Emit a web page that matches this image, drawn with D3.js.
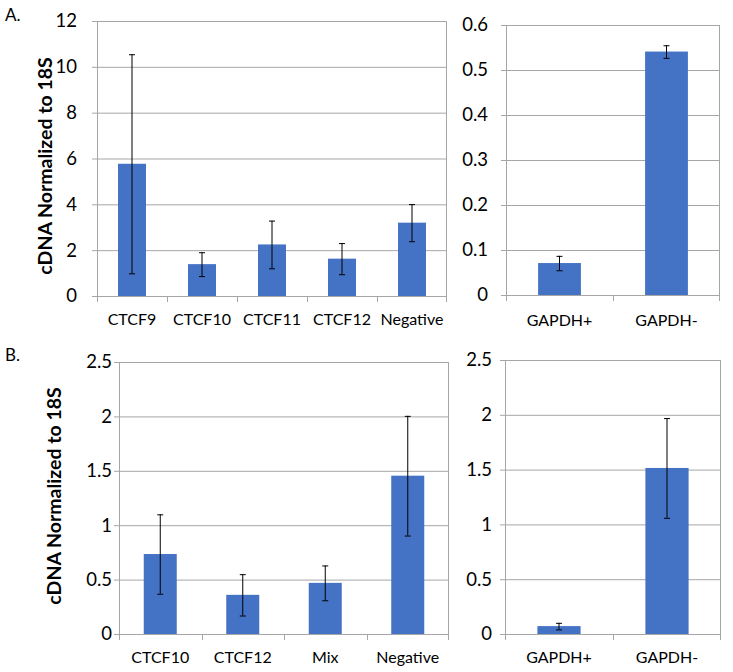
<!DOCTYPE html>
<html>
<head>
<meta charset="utf-8">
<script src="https://cdn.jsdelivr.net/npm/d3@7"></script>
<style>
  body { margin: 0; background: #fff; }
  text { font-family: Lato, "Open Sans", sans-serif; fill: #000; }
</style>
</head>
<body>
<script>
// Panel A, left
var aLeftCats = ["CTCF9", "CTCF10", "CTCF11", "CTCF12", "Negative"];
var aLeftVals = [5.77, 1.39, 2.25, 1.63, 3.2];
var aLeftErr = [4.78, 0.52, 1.04, 0.68, 0.81];
var aLeftTicks = [0, 2, 4, 6, 8, 10, 12];

// Panel A, right
var aRightCats = ["GAPDH+", "GAPDH-"];
var aRightVals = [0.071, 0.541];
var aRightErr = [0.016, 0.014];
var aRightTicks = [0, 0.1, 0.2, 0.3, 0.4, 0.5, 0.6];

// Panel B, left
var bLeftCats = ["CTCF10", "CTCF12", "Mix", "Negative"];
var bLeftVals = [0.735, 0.36, 0.47, 1.455];
var bLeftErr = [0.365, 0.19, 0.16, 0.55];
var bTicks = [0, 0.5, 1, 1.5, 2, 2.5];

// Panel B, right
var bRightCats = ["GAPDH+", "GAPDH-"];
var bRightVals = [0.072, 1.515];
var bRightErr = [0.03, 0.455];

var barColor = "#4472c4";
var gridColor = "#a6a6a6";

var svg = d3.select("body")
  .append("svg")
    .attr("width", 733)
    .attr("height", 672);

//draws one bar panel with error bars
function drawPanel(p) {
  var x = d3.scaleBand()
    .domain(p.cats)
    .range([p.left, p.right])
    .paddingInner(0.6)
    .paddingOuter(0.3);

  var y = d3.scaleLinear()
    .domain([0, d3.max(p.ticks)])
    .range([p.bottom, p.top]);

  var g = svg.append("g");

  //gridlines + y ticks
  g.selectAll(".grid")
    .data(p.ticks.filter(function(t) { return t > 0; }))
    .enter()
    .append("line")
      .attr("x1", p.left - 5)
      .attr("x2", p.right)
      .attr("y1", function(d) { return y(d) + 0.5; })
      .attr("y2", function(d) { return y(d) + 0.5; })
      .attr("stroke", gridColor)
      .attr("stroke-width", 1);

  //y tick labels
  g.selectAll(".ylab")
    .data(p.ticks)
    .enter()
    .append("text")
      .attr("x", p.left - p.labelGap)
      .attr("y", function(d) { return y(d); })
      .attr("dy", "0.35em")
      .attr("text-anchor", "end")
      .style("font-size", "18.5px")
      .text(function(d) { return d; });

  //bars
  g.selectAll(".bar")
    .data(p.vals)
    .enter()
    .append("rect")
      .attr("fill", barColor)
      .attr("x", function(d, i) { return x(p.cats[i]); })
      .attr("width", x.bandwidth())
      .attr("y", function(d) { return y(d); })
      .attr("height", function(d) { return y(0) - y(d); });

  //error bars
  var eb = g.selectAll(".err")
    .data(p.vals)
    .enter()
    .append("g")
      .attr("stroke", "#000")
      .attr("stroke-width", 1);
  eb.append("line")
    .attr("x1", function(d, i) { return x(p.cats[i]) + x.bandwidth() / 2; })
    .attr("x2", function(d, i) { return x(p.cats[i]) + x.bandwidth() / 2; })
    .attr("y1", function(d, i) { return y(d + p.err[i]); })
    .attr("y2", function(d, i) { return y(d - p.err[i]); });
  [1, -1].forEach(function(s) {
    eb.append("line")
      .attr("x1", function(d, i) { return x(p.cats[i]) + x.bandwidth() / 2 - 3; })
      .attr("x2", function(d, i) { return x(p.cats[i]) + x.bandwidth() / 2 + 3; })
      .attr("y1", function(d, i) { return y(d + s * p.err[i]) + 0.5; })
      .attr("y2", function(d, i) { return y(d + s * p.err[i]) + 0.5; });
  });

  //axes lines
  g.append("line")
    .attr("x1", p.left - 5).attr("x2", p.right)
    .attr("y1", y(0) + 0.5).attr("y2", y(0) + 0.5)
    .attr("stroke", gridColor);
  g.append("line")
    .attr("x1", p.left + 0.5).attr("x2", p.left + 0.5)
    .attr("y1", p.top).attr("y2", y(0) + 6)
    .attr("stroke", gridColor);
  g.append("line")
    .attr("x1", p.right - 0.5).attr("x2", p.right - 0.5)
    .attr("y1", p.top).attr("y2", y(0) + 6)
    .attr("stroke", gridColor);

  //category tick marks between bands
  var step = x.step();
  g.selectAll(".ctick")
    .data(p.cats.slice(1))
    .enter()
    .append("line")
      .attr("x1", function(d) { return Math.round(x(d) - step * 0.3) + 0.5; })
      .attr("x2", function(d) { return Math.round(x(d) - step * 0.3) + 0.5; })
      .attr("y1", y(0))
      .attr("y2", y(0) + 6)
      .attr("stroke", gridColor);

  //category labels
  g.selectAll(".xlab")
    .data(p.cats)
    .enter()
    .append("text")
      .attr("x", function(d) { return x(d) + x.bandwidth() / 2; })
      .attr("y", p.labelY)
      .attr("text-anchor", "middle")
      .style("font-size", "16px")
      .text(function(d) { return d; });
}

drawPanel({cats: aLeftCats, vals: aLeftVals, err: aLeftErr, ticks: aLeftTicks,
  left: 97, right: 447, top: 21, bottom: 296, labelGap: 20, labelY: 325});
drawPanel({cats: aRightCats, vals: aRightVals, err: aRightErr, ticks: aRightTicks,
  left: 506, right: 720, top: 25, bottom: 295, labelGap: 18, labelY: 326});
drawPanel({cats: bLeftCats, vals: bLeftVals, err: bLeftErr, ticks: bTicks,
  left: 119, right: 449, top: 362, bottom: 634, labelGap: 7, labelY: 663});
drawPanel({cats: bRightCats, vals: bRightVals, err: bRightErr, ticks: bTicks,
  left: 505, right: 721, top: 360, bottom: 634, labelGap: 13, labelY: 663});

//axis titles
svg.append("text")
  .attr("transform", "translate(52,166) rotate(-90)")
  .attr("text-anchor", "middle")
  .style("font-size", "19.5px")
  .style("font-weight", "bold")
  .text("cDNA Normalized to 18S");
svg.append("text")
  .attr("transform", "translate(61,496) rotate(-90)")
  .attr("text-anchor", "middle")
  .style("font-size", "19.5px")
  .style("font-weight", "bold")
  .text("cDNA Normalized to 18S");

//panel letters
svg.append("text").attr("x", 5).attr("y", 21).style("font-size", "17px").text("A.");
svg.append("text").attr("x", 5).attr("y", 361).style("font-size", "17px").text("B.");
</script>
</body>
</html>
